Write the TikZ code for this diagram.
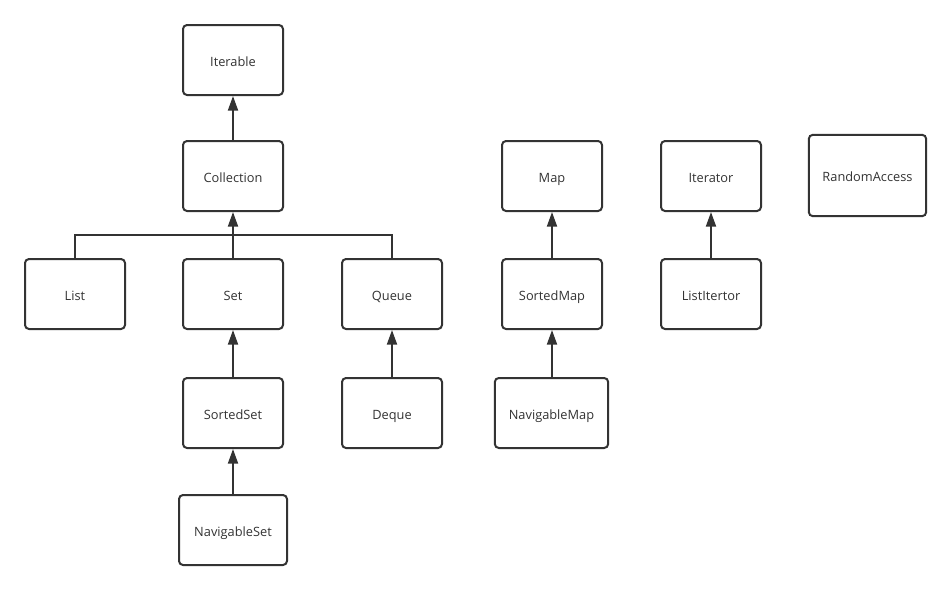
\documentclass[tikz,border=0pt]{standalone}
\usepackage{fontspec}
\setmainfont{Open Sans}
\usetikzlibrary{arrows.meta}
\definecolor{ink}{HTML}{333333}
\begin{document}
\begin{tikzpicture}[x=0.75pt,y=-0.75pt,
  box/.style={draw=ink,line width=1.5pt,rounded corners=3pt,fill=white,
    minimum width=75pt,minimum height=52.5pt,inner sep=0pt,
    text height=9.4pt,text depth=0pt,
    font=\fontsize{9.6pt}{11pt}\selectfont,text=ink},
  conn/.style={draw=ink,line width=1.5pt},
  arr/.style={conn,-{Triangle[width=7.5pt,length=11pt]}}]
\useasboundingbox (0,0) rectangle (951,590);
\node[box] (iterable) at (233,60) {Iterable};
\node[box] (collection) at (233,176) {Collection};
\node[box] (list) at (75,294) {List};
\node[box] (set) at (233,294) {Set};
\node[box] (queue) at (392,294) {Queue};
\node[box] (sortedset) at (233,413) {SortedSet};
\node[box] (deque) at (392,413) {Deque};
\node[box,minimum width=81pt] (navset) at (233,530) {NavigableSet};
\node[box] (map) at (552,176) {Map};
\node[box] (sortedmap) at (552,294) {SortedMap};
\node[box,minimum width=85pt] (navmap) at (551.5,413) {NavigableMap};
\node[box] (iterator) at (711,176) {Iterator};
\node[box] (listit) at (711,294) {ListItertor};
\node[box,minimum width=88pt,minimum height=61pt] (random) at (867.5,175.5) {RandomAccess};
\coordinate (junc) at (233,235);
\draw[arr] (collection) -- (iterable);
\draw[conn] (list.north) |- (junc);
\draw[conn] (queue.north) |- (junc);
\draw[arr] (set) -- (collection);
\draw[arr] (sortedset) -- (set);
\draw[arr] (navset) -- (sortedset);
\draw[arr] (deque) -- (queue);
\draw[arr] (sortedmap) -- (map);
\draw[arr] (navmap.north -| sortedmap.south) -- (sortedmap.south);
\draw[arr] (listit) -- (iterator);
\end{tikzpicture}
\end{document}
